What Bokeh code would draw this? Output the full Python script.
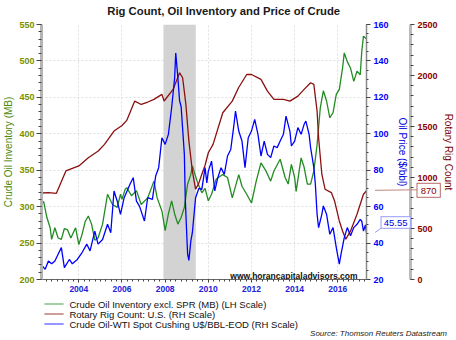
from bokeh.plotting import figure
from bokeh.models import (Range1d, LinearAxis, SingleIntervalTicker, Label, BoxAnnotation,
                          BasicTickFormatter, ColumnDataSource, Div)
from bokeh.core.properties import value
from bokeh.layouts import column
from bokeh.embed import file_html
from bokeh.resources import INLINE

FONT = "Liberation Sans"

TITLE = "Rig Count, Oil Inventory and Price of Crude"
LEFT_TITLE = "Crude Oil Inventory (MB)"
PRICE_TITLE = "Oil Price ($/bbl)"
RIG_TITLE = "Rotary Rig Count"
LEGEND_LABELS = ["Crude Oil Inventory excl. SPR (MB) (LH Scale)",
                 "Rotary Rig Count: U.S. (RH Scale)",
                 "Crude Oil-WTI Spot Cushing U$/BBL-EOD (RH Scale)"]
SOURCE = "Source: Thomson Reuters Datastream"
WATERMARK = "www.horancapitaladvisors.com"

# ---- data (year fraction, value) ----
inv_years = [2002.30, 2002.37, 2002.52, 2002.67, 2002.74, 2002.89, 2003.04, 2003.19, 2003.33, 2003.48,
             2003.63, 2003.85, 2004.00, 2004.15, 2004.30, 2004.44, 2004.59, 2004.74, 2004.89, 2005.10,
             2005.33, 2005.56, 2005.78, 2005.93, 2006.00, 2006.15, 2006.22, 2006.44, 2006.67, 2006.89,
             2007.19, 2007.48, 2007.63, 2007.85, 2008.00, 2008.15, 2008.30, 2008.44, 2008.59, 2008.74,
             2008.89, 2009.04, 2009.19, 2009.26, 2009.48, 2009.70, 2009.85, 2010.00, 2010.15, 2010.37,
             2010.67, 2010.89, 2011.11, 2011.41, 2011.56, 2011.78, 2012.00, 2012.22, 2012.44, 2012.67,
             2012.89, 2013.04, 2013.33, 2013.56, 2013.70, 2013.85, 2014.00, 2014.07, 2014.30, 2014.44,
             2014.59, 2014.74, 2014.89, 2015.04, 2015.19, 2015.33, 2015.48, 2015.63, 2015.78, 2015.93,
             2016.07, 2016.22, 2016.30, 2016.44, 2016.59, 2016.74, 2016.89, 2017.04, 2017.11, 2017.19,
             2017.33]
inv_values = [305, 307, 285, 271, 255, 271, 257, 255, 270, 268,
              257, 271, 248, 262, 280, 287, 276, 254, 257, 276,
              317, 303, 299, 317, 310, 324, 326, 315, 322, 303,
              312, 335, 312, 294, 267, 290, 308, 290, 276, 285,
              299, 331, 344, 356, 335, 319, 325, 308, 317, 338,
              344, 340, 312, 344, 328, 317, 305, 335, 360, 349,
              335, 349, 365, 340, 331, 358, 340, 321, 367, 354,
              331, 331, 349, 385, 436, 459, 445, 422, 429, 454,
              461, 490, 511, 499, 490, 472, 486, 481, 513, 534,
              530]

rig_years = [2002.30, 2002.60, 2002.96, 2003.40, 2003.70, 2004.00, 2004.44, 2004.90, 2005.19, 2005.63,
             2006.00, 2006.22, 2006.59, 2006.89, 2007.20, 2007.48, 2007.85, 2007.95, 2008.37, 2008.67,
             2008.81, 2008.96, 2009.10, 2009.26, 2009.41, 2009.55, 2009.70, 2009.85, 2010.00, 2010.22,
             2010.67, 2011.11, 2011.40, 2011.78, 2012.00, 2012.44, 2012.74, 2013.04, 2013.48, 2013.78,
             2014.15, 2014.44, 2014.74, 2014.89, 2015.04, 2015.11, 2015.26, 2015.41, 2015.70, 2015.85,
             2016.07, 2016.22, 2016.37, 2016.59, 2016.89, 2017.19, 2017.33]
rig_values = [848, 852, 845, 1064, 1090, 1113, 1194, 1260, 1325, 1455,
              1510, 1560, 1749, 1716, 1740, 1766, 1815, 1750, 1864, 2026,
              1978, 1717, 1357, 1064, 885, 940, 1032, 1120, 1243, 1325,
              1635, 1749, 1880, 2010, 2010, 1962, 1847, 1766, 1766, 1749,
              1798, 1864, 1929, 1913, 1652, 1390, 1032, 885, 852, 770,
              574, 476, 395, 476, 640, 836, 870]

wti_years = [2002.30, 2002.44, 2002.59, 2002.74, 2002.89, 2003.04, 2003.19, 2003.26, 2003.33, 2003.56,
             2003.70, 2003.93, 2004.15, 2004.37, 2004.52, 2004.74, 2004.89, 2005.10, 2005.33, 2005.48,
             2005.63, 2005.78, 2005.93, 2006.10, 2006.37, 2006.52, 2006.67, 2006.81, 2007.04, 2007.19,
             2007.41, 2007.56, 2007.70, 2007.85, 2008.00, 2008.15, 2008.30, 2008.44, 2008.49, 2008.59,
             2008.67, 2008.74, 2008.89, 2008.93, 2009.00, 2009.04, 2009.10, 2009.19, 2009.26, 2009.41,
             2009.56, 2009.70, 2009.85, 2009.93, 2010.00, 2010.15, 2010.30, 2010.44, 2010.59, 2010.74,
             2010.89, 2011.04, 2011.19, 2011.26, 2011.41, 2011.56, 2011.70, 2011.85, 2012.00, 2012.15,
             2012.30, 2012.44, 2012.59, 2012.74, 2012.89, 2013.04, 2013.19, 2013.33, 2013.48, 2013.60,
             2013.78, 2013.85, 2014.00, 2014.15, 2014.30, 2014.44, 2014.52, 2014.67, 2014.74, 2014.89,
             2014.96, 2015.04, 2015.11, 2015.26, 2015.33, 2015.48, 2015.63, 2015.78, 2015.93, 2016.07,
             2016.15, 2016.30, 2016.44, 2016.59, 2016.74, 2016.89, 2017.04, 2017.11, 2017.19, 2017.28,
             2017.33]
wti_values = [27.5, 25.6, 30.2, 28.6, 30.2, 33.9, 37.5, 32.0, 26.5, 31.0,
              28.6, 31.0, 34.8, 39.4, 35.7, 46.6, 39.4, 42.0, 50.3, 45.7,
              68.6, 63.0, 55.8, 64.9, 72.3, 75.9, 63.0, 60.3, 52.1, 64.9,
              64.0, 76.8, 81.4, 97.8, 94.2, 99.7, 114.3, 130.7, 144.4, 130.7,
              118.0, 115.0, 88.7, 65.0, 45.0, 34.0, 30.5, 41.2, 45.7, 64.9,
              70.0, 69.5, 81.4, 73.0, 79.5, 85.0, 68.6, 75.9, 81.4, 77.7,
              87.8, 91.4, 105.2, 112.5, 101.5, 96.0, 81.4, 97.8, 101.5, 107.9,
              99.7, 87.8, 96.0, 88.7, 86.9, 93.3, 92.4, 96.0, 99.7, 109.7,
              101.5, 93.3, 96.0, 103.4, 99.7, 105.2, 107.0, 99.7, 92.4, 81.4,
              72.3, 55.8, 48.5, 55.8, 60.4, 55.8, 44.8, 48.5, 37.5, 28.4,
              33.9, 43.0, 48.5, 44.0, 48.5, 50.3, 53.0, 52.0, 46.6, 50.0,
              45.55]

recession = [2007.92, 2009.42]
x_start, x_end = 2002.27, 2017.33
inv_range = (200, 550)
price_range = (20, 160)
rig_range = (0, 2500)

GREEN = "#228b22"
RED = "#8b1010"
BLUE = "#0000ff"

# page geometry of the main plot frame
PAGE_W, PAGE_H = 456, 340
TITLE_H = 18
B_LEFT, B_RIGHT = 37, 81
FRAME_TOP, FRAME_H = 24, 255
FRAME_BOTTOM = FRAME_TOP + FRAME_H
AXIS_H = 17
MAIN_END = FRAME_BOTTOM + AXIS_H
FRAME_L, FRAME_R = B_LEFT, PAGE_W - B_RIGHT


def page_y(v, rng):
    """Page row of a value on one of the vertical scales."""
    return FRAME_BOTTOM - (v - rng[0]) / (rng[1] - rng[0]) * FRAME_H


def strip(height):
    f = figure(width=PAGE_W, height=height, output_backend="svg", toolbar_location=None,
               x_range=Range1d(FRAME_L, FRAME_R), y_range=Range1d(height, 0),
               min_border_left=B_LEFT, min_border_right=B_RIGHT, min_border_top=0,
               min_border_bottom=0, x_axis_type=None, y_axis_type=None)
    f.outline_line_color = None
    f.background_fill_color = "white"
    f.border_fill_color = "white"
    return f


def svg_overlay(left, top, w, h, body, flow_top):
    """Transparent inline-SVG block laid over the page area (left, top, w, h)."""
    svg = (f'<svg xmlns="http://www.w3.org/2000/svg" width="{w}" height="{h}" '
           f'style="display:block;overflow:visible" font-family="{FONT}">{body}</svg>')
    return Div(text=svg, width=w, height=h,
               margin=(top - flow_top, 0, flow_top - top - h, left),
               styles={"pointer-events": "none", "overflow": "visible"})


# ---- title strip ----
p0 = strip(TITLE_H)
p0.text(x=[226.5], y=[10], text=[TITLE], text_font=value(FONT), text_font_size="11.3px",
        text_font_style="bold", text_align="center", text_baseline="middle", text_color="#1a1a1a")

# ---- main chart ----
p = figure(width=PAGE_W, height=MAIN_END - TITLE_H, output_backend="svg",
           toolbar_location=None, x_range=Range1d(x_start, x_end), y_range=Range1d(*inv_range),
           min_border_left=B_LEFT, min_border_right=B_RIGHT, min_border_top=FRAME_TOP - TITLE_H,
           min_border_bottom=AXIS_H)
p.extra_y_ranges = {"price": Range1d(*price_range), "rig": Range1d(*rig_range)}
p.outline_line_color = None
p.background_fill_color = "white"
p.border_fill_color = "white"


def style_axis(ax, label_color, title_color, line_color, line_width, tick_out, minor_out):
    ax.axis_line_color = line_color
    ax.axis_line_width = line_width
    ax.major_tick_line_color = "#444444"
    ax.minor_tick_line_color = "#444444"
    ax.major_tick_out = tick_out
    ax.major_tick_in = 0
    ax.minor_tick_out = minor_out
    ax.minor_tick_in = 0
    ax.major_label_text_font = FONT
    ax.major_label_text_font_size = "9px"
    ax.major_label_text_font_style = "bold"
    ax.major_label_text_color = label_color
    ax.axis_label_text_font = FONT
    ax.axis_label_text_font_size = "10px"
    ax.axis_label_text_font_style = "normal"
    ax.axis_label_text_color = title_color


left = p.left[0]
left.ticker = SingleIntervalTicker(interval=50, num_minor_ticks=5)
left.axis_label = LEFT_TITLE
style_axis(left, "#7a9000", "#4f8a10", "#b4b4b4", 3, 5, 3)
left.major_label_standoff = 2
left.axis_label_standoff = 2

bottom = p.below[0]
bottom.ticker = SingleIntervalTicker(interval=2, num_minor_ticks=8)
bottom.formatter = BasicTickFormatter(use_scientific=False)
style_axis(bottom, "#2020dd", "#2020dd", "#666666", 1, 3, 2)
bottom.major_label_text_font_size = "8.5px"
bottom.major_label_standoff = 3

price_axis = LinearAxis(y_range_name="price", axis_label=PRICE_TITLE,
                        ticker=SingleIntervalTicker(interval=20, num_minor_ticks=4))
style_axis(price_axis, BLUE, "#0000e0", "#8a8a8a", 1.5, 4, 2)
price_axis.major_label_standoff = 3
price_axis.axis_label_standoff = 5
p.add_layout(price_axis, "right")

rig_axis = LinearAxis(y_range_name="rig", axis_label=RIG_TITLE,
                      ticker=SingleIntervalTicker(interval=500, num_minor_ticks=5))
style_axis(rig_axis, "#8b0000", "#7a0000", "#bbbbbb", 3, 4, 3)
rig_axis.major_label_standoff = 3
rig_axis.axis_label_standoff = 2
p.add_layout(rig_axis, "right")

for g in p.grid:
    g.grid_line_color = "#dedede"
    g.grid_line_dash = "2 2"
    g.grid_line_width = 1

p.add_layout(BoxAnnotation(left=recession[0], right=recession[1], fill_color="#d3d3d3",
                           fill_alpha=1.0, line_color=None, level="underlay"))

p.line(inv_years, inv_values, color=GREEN, line_width=1.3)
p.line(rig_years, rig_values, color=RED, line_width=1.3, y_range_name="rig")
p.line(wti_years, wti_values, color=BLUE, line_width=1.3, y_range_name="price")

p.add_layout(Label(x=x_end, y=inv_range[0], x_offset=-9, y_offset=4, text=WATERMARK,
                   text_align="right", text_baseline="alphabetic", text_font=FONT,
                   text_font_size="8.5px", text_font_style="bold", text_color="#111111"))

# ---- end-value call-outs (overlay spans page x 375..456, y 176..244) ----
OV_TOP, OV_H, OV_W = 176, 68, PAGE_W - FRAME_R
rig_last, wti_last = rig_values[-1], wti_values[-1]
ry = page_y(rig_last, rig_range) - OV_TOP
wy = page_y(wti_last, price_range) - OV_TOP
rx0, rw, rh = 42, 23.3, 14
bx0, bw, bh, blift = 6, 29.3, 11.6, 10
callouts = (
    f'<line x1="0" y1="{ry:.1f}" x2="{rx0}" y2="{ry - 0.5:.1f}" stroke="#c08585" stroke-width="1"/>'
    f'<rect x="{rx0}" y="{ry - rh / 2:.1f}" width="{rw}" height="{rh}" fill="white" '
    f'stroke="#b86a6a" stroke-width="1"/>'
    f'<text x="{rx0 + rw / 2:.1f}" y="{ry:.1f}" font-size="9.5px" fill="#8b0000" '
    f'text-anchor="middle" dominant-baseline="central">{rig_last:.0f}</text>'
    f'<line x1="0" y1="{wy:.1f}" x2="{bx0}" y2="{wy - blift + bh / 2:.1f}" stroke="#9a9aff" stroke-width="1"/>'
    f'<rect x="{bx0}" y="{wy - blift - bh / 2:.1f}" width="{bw}" height="{bh}" fill="white" '
    f'stroke="#9a9aff" stroke-width="1"/>'
    f'<text x="{bx0 + bw / 2:.1f}" y="{wy - blift:.1f}" font-size="9.5px" fill="#0000dd" '
    f'text-anchor="middle" dominant-baseline="central">{wti_last:.2f}</text>'
)
ov1 = svg_overlay(FRAME_R, OV_TOP, OV_W, OV_H, callouts, MAIN_END)

# ---- legend strip (data units = page pixels) ----
LEG_H = PAGE_H - MAIN_END
p2 = strip(LEG_H)
row_y = [7.5, 17.5, 27.5]
leg_src = ColumnDataSource(dict(x0=[40] * 3, x1=[60] * 3, y=row_y, tx=[66] * 3,
                                label=LEGEND_LABELS, color=[GREEN, RED, BLUE]))
p2.segment(x0="x0", x1="x1", y0="y", y1="y", color="color", line_width=1.3, line_alpha=0.55,
           source=leg_src)
p2.text(x="tx", y="y", text="label", source=leg_src, text_font=value(FONT),
        text_font_size="9.5px", text_baseline="middle", text_align="left", text_color="#111111")

# ---- source note (overlay spans page x 296..456, y 326..340) ----
SRC_LEFT, SRC_TOP = 296, 326
src_body = (f'<text x="{447 - SRC_LEFT}" y="{333 - SRC_TOP}" font-size="8px" font-style="italic" '
            f'fill="#222222" text-anchor="end" dominant-baseline="central">{SOURCE}</text>')
ov2 = svg_overlay(SRC_LEFT, SRC_TOP, PAGE_W - SRC_LEFT, PAGE_H - SRC_TOP, src_body, PAGE_H)

layout = column(p0, p, ov1, p2, ov2, spacing=0)
open("out.html", "w").write(file_html(layout, INLINE))
